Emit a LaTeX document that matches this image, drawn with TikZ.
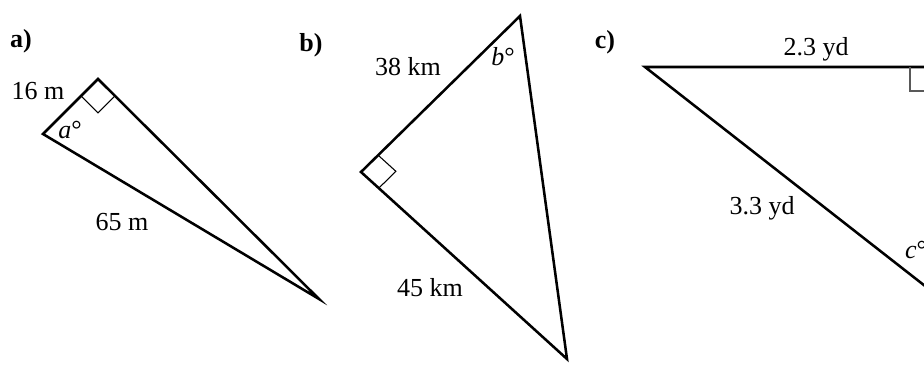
\documentclass[tikz,border=0pt]{standalone}
\usepackage{fontspec}
\setmainfont{Liberation Serif}
\usepackage{tikz}
\usetikzlibrary{calc}
\tikzset{
  triedge/.style={line width=1.9pt,line join=miter},
  rightmark/.style={line width=0.8pt},
  sidelabel/.style={inner sep=0pt,font=\fontsize{19.5}{23}\selectfont},
  anglelabel/.style={inner sep=0pt,font=\fontsize{19.5}{23}\selectfont},
  partlabel/.style={inner sep=0pt,font=\fontsize{19.5}{23}\selectfont\bfseries}
}

\begin{document}
\begin{tikzpicture}[x=0.75pt,y=-0.75pt]
  \useasboundingbox (0,0) rectangle (924,375);
  \clip (0,0) rectangle (924,375);
  % a)
  \coordinate (A1) at (43,134);
  \coordinate (A2) at (98,79);
  \coordinate (A3) at (319,299);
  \draw[triedge] (A1) -- (A2) -- (A3) -- cycle;
  \path ($(A2)!18pt!(A1)$) coordinate (ma1) ($(A2)!18pt!(A3)$) coordinate (ma3);
  \draw[rightmark] (ma1) -- ($(ma1)+(ma3)-(A2)$) -- (ma3);
  \node[partlabel] (pa) at (21,41) {a)};
  \node[sidelabel] (sa1) at (38,91) {16 m};
  \node[sidelabel] (sa2) at (122,222) {65 m};
  \node[anglelabel] (anga) at (70,130) {\textit{a}°};
  % b)
  \coordinate (B1) at (520,16);
  \coordinate (B2) at (361,172);
  \coordinate (B3) at (567,359);
  \draw[triedge] (B1) -- (B2) -- (B3) -- cycle;
  \path ($(B2)!18pt!(B1)$) coordinate (mb1) ($(B2)!18pt!(B3)$) coordinate (mb3);
  \draw[rightmark] (mb1) -- ($(mb1)+(mb3)-(B2)$) -- (mb3);
  \node[partlabel] (pb) at (311,45) {b)};
  \node[sidelabel] (sb1) at (408,67) {38 km};
  \node[sidelabel] (sb2) at (430,288) {45 km};
  \node[anglelabel] (angb) at (503,57) {\textit{b}°};
  % c)
  \coordinate (C1) at (645,67);
  \coordinate (C2) at (934,67);
  \coordinate (C3) at (934,293);
  \draw[triedge] (C1) -- (C2) -- (C3) -- cycle;
  \path ($(C2)!18pt!(C1)$) coordinate (mc1) ($(C2)!18pt!(C3)$) coordinate (mc3);
  \draw[rightmark,black!65] (mc1) -- ($(mc1)+(mc3)-(C2)$) -- (mc3);
  \node[partlabel] (pc) at (605,42) {c)};
  \node[sidelabel] (sc1) at (816,49) {2.3 yd};
  \node[sidelabel] (sc2) at (762,208) {3.3 yd};
  \node[anglelabel] (angc) at (916,250) {\textit{c}°};
\end{tikzpicture}
\end{document}
